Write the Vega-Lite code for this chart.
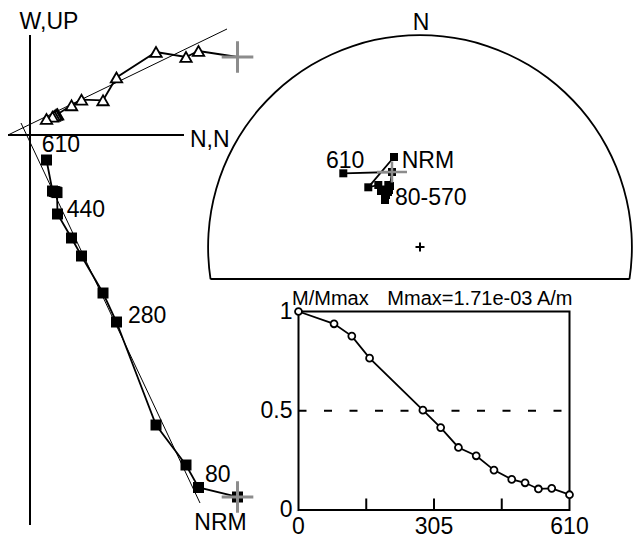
{
  "$schema": "https://vega.github.io/schema/vega-lite/v6.json",
  "width": 633,
  "height": 538,
  "autosize": {"type": "none"},
  "padding": 0,
  "background": "white",
  "config": {"view": {"stroke": null}, "text": {"font": "Liberation Sans", "fontSize": 23, "color": "black"}},
  "datasets": {
    "steps": [
      {"temp": 0, "N": 835.9, "W": 314.2, "U": -1458.2, "M": 1.0, "sx": -0.1226, "sy": 0.4245},
      {"temp": 80, "N": 678.8, "W": 338.4, "U": -1419.9, "M": 0.938, "sx": -0.2439, "sy": 0.2816},
      {"temp": 120, "N": 628.4, "W": 314.2, "U": -1329.3, "M": 0.876, "sx": -0.1967, "sy": 0.2925},
      {"temp": 160, "N": 507.6, "W": 334.3, "U": -1168.2, "M": 0.765, "sx": -0.1745, "sy": 0.2712},
      {"temp": 280, "N": 348.4, "W": 231.6, "U": -753.3, "M": 0.503, "sx": -0.1495, "sy": 0.2925},
      {"temp": 320, "N": 294.1, "W": 139.8, "U": -636.5, "M": 0.415, "sx": -0.1651, "sy": 0.2217},
      {"temp": 360, "N": 207.5, "W": 142.2, "U": -487.4, "M": 0.315, "sx": -0.184, "sy": 0.2642},
      {"temp": 400, "N": 167.2, "W": 119.6, "U": -414.9, "M": 0.273, "sx": -0.1604, "sy": 0.2453},
      {"temp": 440, "N": 110.8, "W": 83.4, "U": -318.2, "M": 0.201, "sx": -0.1462, "sy": 0.2689},
      {"temp": 480, "N": 108.8, "W": 82.6, "U": -232.0, "M": 0.154, "sx": -0.1651, "sy": 0.2358},
      {"temp": 510, "N": 104.7, "W": 80.6, "U": -229.6, "M": 0.137, "sx": -0.1509, "sy": 0.2594},
      {"temp": 540, "N": 97.9, "W": 76.5, "U": -227.6, "M": 0.106, "sx": -0.1415, "sy": 0.2877},
      {"temp": 570, "N": 90.6, "W": 73.7, "U": -225.6, "M": 0.109, "sx": -0.1321, "sy": 0.3538},
      {"temp": 610, "N": 66.5, "W": 64.5, "U": -100.7, "M": 0.077, "sx": -0.3618, "sy": 0.3476}
    ]
  },
  "layer": [
    {
      "layer": [
        {
          "data": {"values": [{"a": 0, "b": 402.8, "c": 0, "d": -1571}, {"a": -88.6, "b": 0, "c": 620.3, "d": 0}]},
          "mark": {"type": "rule", "strokeWidth": 2, "color": "black"},
          "encoding": {
            "x": {"field": "a", "type": "quantitative", "scale": {"domain": [-100, 1000], "range": [5.175, 278.25], "nice": false, "zero": false}, "axis": null},
            "y": {"field": "b", "type": "quantitative", "scale": {"domain": [-1600, 400], "range": [532.2, 35.7], "nice": false, "zero": false}, "axis": null},
            "x2": {"field": "c"},
            "y2": {"field": "d"}
          }
        },
        {
          "data": {"values": [{"a": -88.6, "b": 0, "c": 793.6, "d": 427.0}, {"a": -36.3, "b": 48.3, "c": 684.8, "d": -1482.4}]},
          "mark": {"type": "rule", "strokeWidth": 1, "color": "black"},
          "encoding": {
            "x": {"field": "a", "type": "quantitative", "axis": null},
            "y": {"field": "b", "type": "quantitative", "axis": null},
            "x2": {"field": "c"},
            "y2": {"field": "d"}
          }
        },
        {
          "data": {"name": "steps"},
          "mark": {"type": "line", "strokeWidth": 1.8, "color": "black"},
          "encoding": {
            "x": {"field": "N", "type": "quantitative", "axis": null},
            "y": {"field": "W", "type": "quantitative", "axis": null},
            "order": {"field": "temp"}
          }
        },
        {
          "data": {"name": "steps"},
          "mark": {"type": "line", "strokeWidth": 1.8, "color": "black"},
          "encoding": {
            "x": {"field": "N", "type": "quantitative", "axis": null},
            "y": {"field": "U", "type": "quantitative", "axis": null},
            "order": {"field": "temp"}
          }
        },
        {
          "data": {"name": "steps"},
          "transform": [{"filter": "datum.temp > 0"}],
          "mark": {"type": "point", "shape": "triangle-up", "size": 130, "filled": true, "fill": "white", "stroke": "black", "strokeWidth": 1.8, "opacity": 1},
          "encoding": {
            "x": {"field": "N", "type": "quantitative", "axis": null},
            "y": {"field": "W", "type": "quantitative", "axis": null}
          }
        },
        {
          "data": {"name": "steps"},
          "mark": {"type": "square", "size": 121, "color": "black", "opacity": 1},
          "encoding": {
            "x": {"field": "N", "type": "quantitative", "axis": null},
            "y": {"field": "U", "type": "quantitative", "axis": null}
          }
        },
        {
          "data": {"name": "steps"},
          "transform": [{"filter": "datum.temp == 0"}],
          "mark": {"type": "point", "shape": "M-1,0H1M0,-1V1", "size": 1000, "filled": false, "stroke": "#8c8c8c", "strokeWidth": 3, "opacity": 1},
          "encoding": {
            "x": {"field": "N", "type": "quantitative", "axis": null},
            "y": {"field": "W", "type": "quantitative", "axis": null}
          }
        },
        {
          "data": {"name": "steps"},
          "transform": [{"filter": "datum.temp == 0"}],
          "mark": {"type": "point", "shape": "M-1,0H1M0,-1V1", "size": 1000, "filled": false, "stroke": "#8c8c8c", "strokeWidth": 3, "opacity": 1},
          "encoding": {
            "x": {"field": "N", "type": "quantitative", "axis": null},
            "y": {"field": "U", "type": "quantitative", "axis": null}
          }
        },
        {
          "data": {"values": [
            {"a": 76.5, "b": 425, "label": "W,UP", "al": "center"},
            {"a": 644.5, "b": -48.3, "label": "N,N", "al": "left"},
            {"a": 47.1, "b": -67.3, "label": "610", "al": "left"},
            {"a": 147.8, "b": -331.5, "label": "440", "al": "left"},
            {"a": 394.8, "b": -756.1, "label": "280", "al": "left"},
            {"a": 704.9, "b": -1396.6, "label": "80", "al": "left"},
            {"a": 767.4, "b": -1591, "label": "NRM", "al": "center"}
          ]},
          "mark": {"type": "text", "baseline": "alphabetic", "align": {"expr": "datum.al"}},
          "encoding": {
            "x": {"field": "a", "type": "quantitative", "axis": null},
            "y": {"field": "b", "type": "quantitative", "axis": null},
            "text": {"field": "label"}
          }
        }
      ]
    },
    {
      "layer": [
        {
          "data": {"values": [{"a": 0, "b": 0}]},
          "mark": {"type": "arc", "theta": -1.7226, "theta2": 1.7226, "innerRadius": 211, "outerRadius": 212.8, "color": "black"},
          "encoding": {
            "x": {"field": "a", "type": "quantitative", "scale": {"domain": [-1, 1], "range": [208, 632], "nice": false, "zero": false}, "axis": null},
            "y": {"field": "b", "type": "quantitative", "scale": {"domain": [-1, 1], "range": [459, 35], "nice": false, "zero": false}, "axis": null}
          }
        },
        {
          "data": {"values": [{"a": -0.9887, "b": -0.151, "c": 0.9887}]},
          "mark": {"type": "rule", "strokeWidth": 2, "color": "black"},
          "encoding": {
            "x": {"field": "a", "type": "quantitative", "axis": null},
            "y": {"field": "b", "type": "quantitative", "axis": null},
            "x2": {"field": "c"}
          }
        },
        {
          "data": {"values": [{"a": 0, "b": 0}]},
          "mark": {"type": "point", "shape": "M-1,0H1M0,-1V1", "size": 81, "filled": false, "stroke": "black", "strokeWidth": 2, "opacity": 1},
          "encoding": {
            "x": {"field": "a", "type": "quantitative", "axis": null},
            "y": {"field": "b", "type": "quantitative", "axis": null}
          }
        },
        {
          "data": {"name": "steps"},
          "mark": {"type": "line", "strokeWidth": 1.8, "color": "black"},
          "encoding": {
            "x": {"field": "sx", "type": "quantitative", "axis": null},
            "y": {"field": "sy", "type": "quantitative", "axis": null},
            "order": {"field": "temp"}
          }
        },
        {
          "data": {"name": "steps"},
          "mark": {"type": "square", "size": 64, "color": "black", "opacity": 1},
          "encoding": {
            "x": {"field": "sx", "type": "quantitative", "axis": null},
            "y": {"field": "sy", "type": "quantitative", "axis": null}
          }
        },
        {
          "data": {"values": [{"a": -0.1321, "b": 0.3538}]},
          "mark": {"type": "point", "shape": "M-1,0H1M0,-0.7V0.7", "size": 900, "filled": false, "stroke": "#8c8c8c", "strokeWidth": 2.5, "opacity": 1},
          "encoding": {
            "x": {"field": "a", "type": "quantitative", "axis": null},
            "y": {"field": "b", "type": "quantitative", "axis": null}
          }
        },
        {
          "data": {"values": [
            {"a": 0.0047, "b": 1.0236, "label": "N", "al": "center"},
            {"a": -0.4434, "b": 0.3712, "label": "610", "al": "left"},
            {"a": -0.0863, "b": 0.3712, "label": "NRM", "al": "left"},
            {"a": -0.1179, "b": 0.1981, "label": "80-570", "al": "left"}
          ]},
          "mark": {"type": "text", "baseline": "alphabetic", "align": {"expr": "datum.al"}},
          "encoding": {
            "x": {"field": "a", "type": "quantitative", "axis": null},
            "y": {"field": "b", "type": "quantitative", "axis": null},
            "text": {"field": "label"}
          }
        }
      ]
    },
    {
      "layer": [
        {
          "data": {"values": [{"a": 0, "b": 0, "c": 610, "d": 1}]},
          "mark": {"type": "rect", "filled": false, "stroke": "black", "strokeWidth": 2},
          "encoding": {
            "x": {"field": "a", "type": "quantitative", "scale": {"domain": [0, 610], "range": [298.5, 569.5], "nice": false, "zero": false}, "axis": null},
            "y": {"field": "b", "type": "quantitative", "scale": {"domain": [0, 1], "range": [510, 311.5], "nice": false, "zero": false}, "axis": null},
            "x2": {"field": "c"},
            "y2": {"field": "d"}
          }
        },
        {
          "data": {"values": [{"a": 0, "b": 0.5, "c": 610}]},
          "mark": {"type": "rule", "strokeWidth": 1.8, "strokeDash": [8, 17.5], "color": "black"},
          "encoding": {
            "x": {"field": "a", "type": "quantitative", "axis": null},
            "y": {"field": "b", "type": "quantitative", "axis": null},
            "x2": {"field": "c"}
          }
        },
        {
          "data": {"values": [{"a": 152.5, "b": 0, "d": 0.058}, {"a": 305, "b": 0, "d": 0.058}, {"a": 457.5, "b": 0, "d": 0.058}]},
          "mark": {"type": "rule", "strokeWidth": 2, "color": "black"},
          "encoding": {
            "x": {"field": "a", "type": "quantitative", "axis": null},
            "y": {"field": "b", "type": "quantitative", "axis": null},
            "y2": {"field": "d"}
          }
        },
        {
          "data": {"name": "steps"},
          "mark": {"type": "line", "strokeWidth": 1.8, "color": "black"},
          "encoding": {
            "x": {"field": "temp", "type": "quantitative", "axis": null},
            "y": {"field": "M", "type": "quantitative", "axis": null},
            "order": {"field": "temp"}
          }
        },
        {
          "data": {"name": "steps"},
          "mark": {"type": "point", "shape": "circle", "size": 48, "filled": true, "fill": "white", "stroke": "black", "strokeWidth": 1.8, "opacity": 1},
          "encoding": {
            "x": {"field": "temp", "type": "quantitative", "axis": null},
            "y": {"field": "M", "type": "quantitative", "axis": null}
          }
        },
        {
          "data": {"values": [{"a": 0, "b": 1, "label": "1"}, {"a": 0, "b": 0.5, "label": "0.5"}, {"a": 0, "b": 0, "label": "0"}]},
          "mark": {"type": "text", "align": "right", "baseline": "middle", "dx": -6},
          "encoding": {
            "x": {"field": "a", "type": "quantitative", "axis": null},
            "y": {"field": "b", "type": "quantitative", "axis": null},
            "text": {"field": "label"}
          }
        },
        {
          "data": {"values": [{"a": 0, "b": 0, "label": "0"}, {"a": 305, "b": 0, "label": "305"}, {"a": 610, "b": 0, "label": "610"}]},
          "mark": {"type": "text", "align": "center", "baseline": "alphabetic", "dy": 24},
          "encoding": {
            "x": {"field": "a", "type": "quantitative", "axis": null},
            "y": {"field": "b", "type": "quantitative", "axis": null},
            "text": {"field": "label"}
          }
        },
        {
          "data": {"values": [{"a": -14.6, "b": 1.0327, "label": "M/Mmax"}, {"a": 200, "b": 1.0327, "label": "Mmax=1.71e-03 A/m"}]},
          "mark": {"type": "text", "align": "left", "baseline": "alphabetic", "fontSize": 20},
          "encoding": {
            "x": {"field": "a", "type": "quantitative", "axis": null},
            "y": {"field": "b", "type": "quantitative", "axis": null},
            "text": {"field": "label"}
          }
        }
      ]
    }
  ],
  "resolve": {"scale": {"x": "independent", "y": "independent"}}
}
